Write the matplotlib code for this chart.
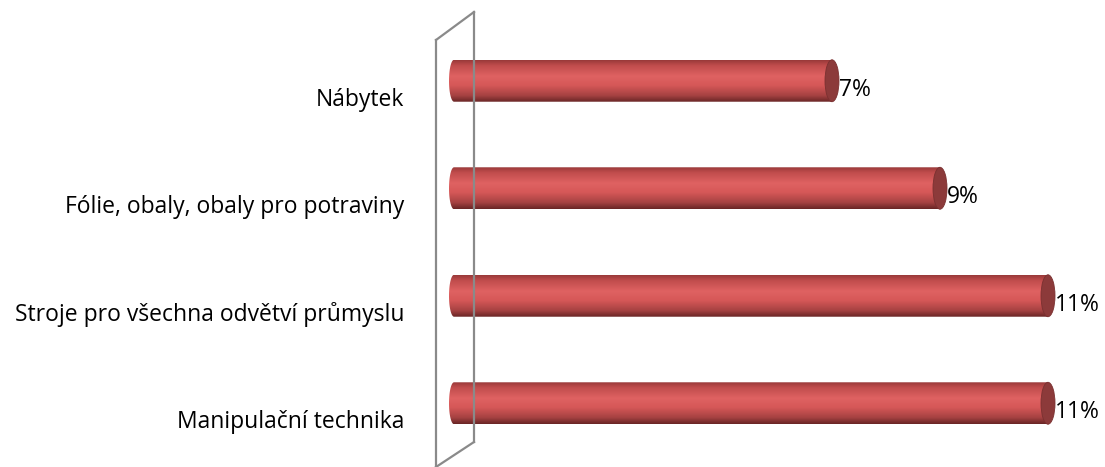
import numpy as np
import matplotlib
matplotlib.use('Agg')
import matplotlib.pyplot as plt
from matplotlib.colors import LinearSegmentedColormap
from matplotlib.patches import Ellipse
from matplotlib.path import Path
from matplotlib.lines import Line2D
from matplotlib.transforms import ScaledTranslation

categories = ['Nábytek', 'Fólie, obaly, obaly pro potraviny',
              'Stroje pro všechna odvětví průmyslu', 'Manipulační technika']
values = [7, 9, 11, 11]
value_labels = ['7%', '9%', '11%', '11%']

plt.rcParams['font.family'] = ['Open Sans', 'DejaVu Sans']

W, H = 1105, 467
px = 54.0   # pixels per percent
fig = plt.figure(figsize=(W / 100, H / 100), dpi=100)
ax = fig.add_axes([446 / W, 10 / H, 659 / W, 430 / H])
ax.set_xlim(-8 / px, 651 / px)
ax.set_ylim(3.5, -0.5)
for s in ax.spines.values():
    s.set_visible(False)
ax.set_xticks([])

grad = LinearSegmentedColormap.from_list('cyl', [
    (0.0, '#9a3a3a'), (0.12, '#c04c4c'), (0.38, '#df6262'),
    (0.6, '#d65858'), (0.85, '#a64242'), (1.0, '#6a2626')])
g = np.linspace(0, 1, 64).reshape(-1, 1)

bh = 0.39          # bar height in category units
lw_ = 5 / px       # left rounding (half width)
cw = 14 / px       # right cap width

for i, v in enumerate(values):
    y0, y1 = i - bh / 2, i + bh / 2
    t = np.linspace(np.pi / 2, 3 * np.pi / 2, 30)
    left = np.column_stack([lw_ * np.cos(t), i + bh / 2 * -np.sin(t)])
    verts = np.vstack([left, [[v, y1], [v, y0]], left[:1]])
    clip = Path(verts, closed=True)
    im = ax.imshow(g, cmap=grad, aspect='auto', extent=[-lw_, v, y1, y0],
                   interpolation='bilinear', zorder=2)
    im.set_clip_path(clip, ax.transData)
    ax.add_patch(Ellipse((v, i), cw, bh, facecolor='#8c3a3a',
                         edgecolor='#7a3030', lw=0.6, zorder=3))
    ax.text(v + cw / 2, i, value_labels[i], fontsize=16.5, va='center',
            ha='left', zorder=4,
            transform=ax.transData + ScaledTranslation(0.0, -0.09, fig.dpi_scale_trans))

ax.set_yticks(range(len(categories)))
ax.set_yticklabels(categories, fontsize=16.5)
ax.tick_params(axis='y', length=0, pad=30)
for lab in ax.get_yticklabels():
    lab.set_transform(lab.get_transform() + ScaledTranslation(0, -0.16, fig.dpi_scale_trans))

# side wall
wall = [((436, 40), (474, 12)), ((436, 40), (436, 467)), ((474, 12), (474, 442)),
        ((436, 467), (474, 442))]
for (xa, ya), (xb, yb) in wall:
    fig.add_artist(Line2D([xa / W, xb / W], [1 - ya / H, 1 - yb / H],
                          color='#8a8a8a', lw=1.6, zorder=1))

fig.savefig('out.png', dpi=100)
